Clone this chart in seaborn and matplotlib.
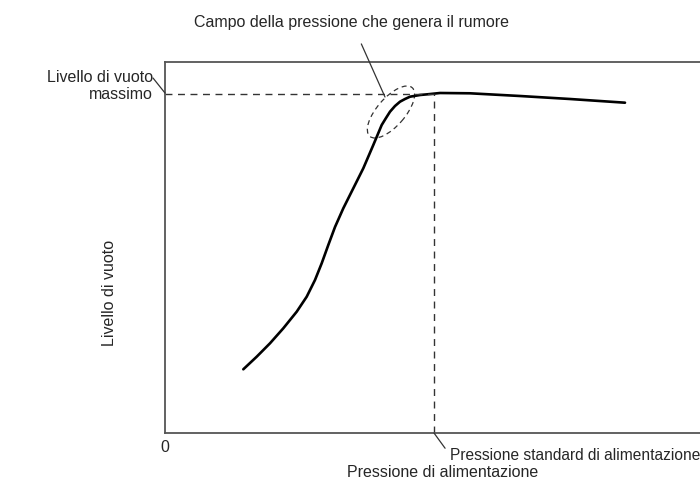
import matplotlib
matplotlib.use("Agg")
import matplotlib.pyplot as plt
from matplotlib.patches import Ellipse
import seaborn as sns
import pandas as pd

# Data (arbitrary units)
pressione = [1.566, 1.834, 2.10, 2.366, 2.634, 2.834, 3.00, 3.134, 3.266, 3.40, 3.48, 3.566, 3.766,
             3.966, 4.166, 4.334, 4.42, 4.50, 4.60, 4.70, 4.80, 4.90, 5.10, 5.26, 5.50, 6.10,
             7.10, 8.10, 9.20]
vuoto = [1.274, 1.526, 1.794, 2.094, 2.426, 2.726, 3.06, 3.394, 3.76, 4.12, 4.30, 4.494, 4.894,
         5.294, 5.76, 6.16, 6.30, 6.426, 6.54, 6.626, 6.68, 6.726, 6.76, 6.775, 6.80, 6.794,
         6.74, 6.68, 6.606]
vuoto_max = 6.79
pressione_std = 5.38
x_ticks = [0]
x_tick_labels = ["0"]

df = pd.DataFrame({"Pressione": pressione, "Vuoto": vuoto})

sns.set_theme(style="white")
plt.rcParams["font.family"] = ["Liberation Sans", "DejaVu Sans"]
FS = 11.5

fig = plt.figure(figsize=(7, 4.87), dpi=100)
W, H = 700, 487
ax = fig.add_axes([165 / W, 1 - 433 / H, 555 / W, 371 / H])
ax.set_xlim(0, 11.1)
ax.set_ylim(0, 7.42)

sns.lineplot(data=df, x="Pressione", y="Vuoto", ax=ax, color="black", linewidth=1.9, sort=False)
ax.lines[-1].set_solid_joinstyle("round")
ax.lines[-1].set_solid_capstyle("round")

dash_kw = dict(color="#333333", linewidth=1.0, linestyle=(0, (5, 4)))
ax.plot([0, pressione_std], [vuoto_max, vuoto_max], **dash_kw)
ax.plot([pressione_std, pressione_std], [0, vuoto_max], **dash_kw)

ell = Ellipse((4.52, 6.42), width=1.29, height=0.56, angle=49, fill=False,
              edgecolor="#333333", linewidth=0.9, linestyle=(0, (4, 3)))
ax.add_patch(ell)

for s in ax.spines.values():
    s.set_color("#555555")
    s.set_linewidth(1.3)

ax.set_xticks(x_ticks)
ax.set_xticklabels(x_tick_labels, fontsize=FS)
ax.set_yticks([])
ax.tick_params(axis="x", length=0, pad=5)
ax.set_xlabel("Pressione di alimentazione", fontsize=FS, labelpad=7)
ax.set_ylabel("")

def fp(x, y):
    return (x, H - y)

fig.text(110 / W, 1 - 293 / H, "Livello di vuoto", rotation=90, fontsize=FS,
         ha="center", va="center")

# Title annotation
ax.annotate("Campo della pressione che genera il rumore", xy=fp(385, 97), xycoords="figure pixels",
            xytext=fp(352, 23), textcoords="figure pixels", fontsize=FS, ha="center", va="center",
            arrowprops=dict(arrowstyle="-", color="#333333", linewidth=0.9, shrinkA=8, shrinkB=0))

# Max level annotation
fig.text(153 / W, 1 - 86 / H, "Livello di vuoto\nmassimo", fontsize=FS, ha="right", va="center",
         linespacing=1.15)
ax.annotate("", xy=fp(165, 93), xycoords="figure pixels", xytext=fp(153, 78),
            textcoords="figure pixels",
            arrowprops=dict(arrowstyle="-", color="#333333", linewidth=0.9, shrinkA=0, shrinkB=0))

# Standard pressure annotation
ax.annotate("Pressione standard di alimentazione", xy=fp(434, 433), xycoords="figure pixels",
            xytext=fp(450, 455), textcoords="figure pixels", fontsize=11.2, ha="left", va="center",
            arrowprops=dict(arrowstyle="-", color="#333333", linewidth=0.9, shrinkA=2, shrinkB=0,
                            relpos=(0, 0.5)))

fig.savefig("out.png", dpi=100, facecolor="white")
